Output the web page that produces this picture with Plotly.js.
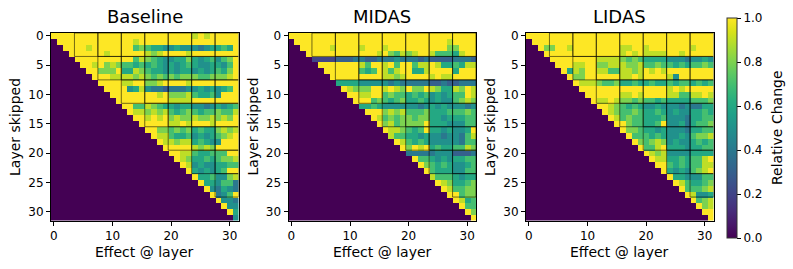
<!DOCTYPE html>
<html>
<head>
<meta charset="utf-8">
<script src="https://cdn.plot.ly/plotly-3.0.1.min.js"></script>
<style>html,body{margin:0;padding:0;background:#fff;}#chart{width:793px;height:269px;}</style>
</head>
<body>
<div id="chart"></div>
<script>
// Values per cell: digit d = d/10, X = 1.0 ; rows = "Layer skipped" 0..31, columns = "Effect @ layer" 0..31
const layerIndex = Array.from({length: 32}, (_, i) => i);
const xTickVals = [0, 10, 20, 30];
const yTickVals = [0, 5, 10, 15, 20, 25, 30];
const cbTickVals = [0, 0.2, 0.4, 0.6, 0.8, 1.0];
const cbTickText = ["0.0", "0.2", "0.4", "0.6", "0.8", "1.0"];
const panelTitles = ["Baseline", "MIDAS", "LIDAS"];

const baselineRows = [
"XXXX XXXX XXXX XXXX XXXX XXXX 9X9X XXXX",
"0XXX XXXX XXXX XX9X XXXX XXXX XXXX XXXX",
"00XX XX9X XXXX XX78 7665 5655 5456 676X",
"000X XXXX X9XX XXXX 989X XXX9 XXXX XXXX",
"0000 XXXX XXXX XX79 8765 5668 6567 578X",
"0000 0XX9 X898 7767 6765 6567 6556 657X",
"0000 00XX 888X 6698 7665 6566 5656 768X",
"0000 000X XX99 9989 8787 8788 8778 889X",
"0000 0000 XXXX 99XX 889X XXX9 XXXX XXXX",
"0000 0000 0XXX X569 5443 4445 5656 567X",
"0000 0000 00XX XXXX XX9X 8889 7667 5XXX",
"0000 0000 000X XXXX XXXX 9999 XXXX XXXX",
"0000 0000 0000 XX77 9876 6566 5545 6567",
"0000 0000 0000 0X99 8989 7678 7677 8779",
"0000 0000 0000 00XX 9X9X 8988 9889 898X",
"0000 0000 0000 000X XXXX 99X9 XXX9 XXXX",
"0000 0000 0000 0000 XX88 7878 6766 8989",
"0000 0000 0000 0000 0X99 7667 5656 789X",
"0000 0000 0000 0000 00X9 9899 6765 5XXX",
"0000 0000 0000 0000 000X XXXX 9898 XXXX",
"0000 0000 0000 0000 0000 XX99 7667 77XX",
"0000 0000 0000 0000 0000 0X98 6676 7889",
"0000 0000 0000 0000 0000 00X9 5655 6677",
"0000 0000 0000 0000 0000 000X 6565 67XX",
"0000 0000 0000 0000 0000 0000 X667 5589",
"0000 0000 0000 0000 0000 0000 0X66 5774",
"0000 0000 0000 0000 0000 0000 00X5 4654",
"0000 0000 0000 0000 0000 0000 000X 457X",
"0000 0000 0000 0000 0000 0000 0000 X554",
"0000 0000 0000 0000 0000 0000 0000 0X55",
"0000 0000 0000 0000 0000 0000 0000 00X6",
"0000 0000 0000 0000 0000 0000 0000 0005"
];

const midasRows = [
"XXXX XXXX XXXX XXXX XXXX XXXX XXXX XXXX",
"0XXX XXXX XXXX XXXX XXXX XXXX XXX9 XXXX",
"00XX XXX9 XXXX 9XXX 9XXX XXXX XXX8 8XXX",
"000X XXXX XXXX XXX9 X879 89XX 9777 69XX",
"0000 2222 3334 4334 4454 4434 3333 4443",
"0000 0XXX XXXX 97XX 9X7X X799 X966 7699",
"0000 00XX XXXX 767X 979X X669 XXXX 6XXX",
"0000 000X XXXX XXXX 9989 XXXX 9X99 XXXX",
"0000 0000 6666 5555 5454 4444 3343 3444",
"0000 0000 0X98 88XX 9X98 X88X 9866 98X9",
"0000 0000 00XX 99XX 7877 6767 5656 77X9",
"0000 0000 000X XX78 7678 6676 5655 7898",
"0000 0000 0000 6676 5555 5545 6565 5545",
"0000 0000 0000 0XXX 8989 7778 6667 7787",
"0000 0000 0000 00X9 7878 8788 6656 6677",
"0000 0000 0000 000X 8978 888X 6665 5577",
"0000 0000 0000 0000 X998 767X 6656 556X",
"0000 0000 0000 0000 0977 6656 5545 5479",
"0000 0000 0000 0000 00X9 7676 5555 5477",
"0000 0000 0000 0000 000X 8X9X 6766 7798",
"0000 0000 0000 0000 0000 4444 4555 3334",
"0000 0000 0000 0000 0000 0X77 6565 6677",
"0000 0000 0000 0000 0000 00X8 7676 5567",
"0000 0000 0000 0000 0000 000X 7666 5577",
"0000 0000 0000 0000 0000 0000 9777 6566",
"0000 0000 0000 0000 0000 0000 0X98 6678",
"0000 0000 0000 0000 0000 0000 00X9 7788",
"0000 0000 0000 0000 0000 0000 000X X788",
"0000 0000 0000 0000 0000 0000 0000 X967",
"0000 0000 0000 0000 0000 0000 0000 0X77",
"0000 0000 0000 0000 0000 0000 0000 00X8",
"0000 0000 0000 0000 0000 0000 0000 000X"
];

const lidasRows = [
"XXXX XXXX XXXX XXXX XXXX XXXX XXXX XXXX",
"0XXX XXXX XXXX XXXX XXXX XXXX XXXX XXXX",
"00X8 8XX9 XXXX XXXX 99XX 9XXX XXXX 9XXX",
"000X XXXX XXXX XXXX 9X9X 9999 XX9X XXXX",
"0000 XXXX XXXX 9999 8787 6666 5554 5565",
"0000 0XXX 99XX 8899 9889 7787 7676 7787",
"0000 00X6 98XX 9977 9989 X9X9 XXXX XXXX",
"0000 000X 88XX XXXX 99X9 XXXX 95XX XXXX",
"0000 0000 X999 8778 6676 6766 7677 6767",
"0000 0000 0XXX XXXX XXXX XXXX 9X9X XXXX",
"0000 0000 00XX XXXX 99X9 XXXX 9977 99X9",
"0000 0000 000X 99X9 8878 7767 6666 7778",
"0000 0000 0000 XX98 7676 5565 5545 4466",
"0000 0000 0000 0X98 7787 6676 5655 6676",
"0000 0000 0000 00X9 7877 6667 5554 6677",
"0000 0000 0000 000X X877 667X 5564 6778",
"0000 0000 0000 0000 X887 6656 5554 6677",
"0000 0000 0000 0000 0X77 7676 5565 7889",
"0000 0000 0000 0000 00X8 7898 5655 6767",
"0000 0000 0000 0000 000X 779X 6665 6677",
"0000 0000 0000 0000 0000 X989 5555 6666",
"0000 0000 0000 0000 0000 0X99 6676 779X",
"0000 0000 0000 0000 0000 00XX 7676 7799",
"0000 0000 0000 0000 0000 000X 6565 789X",
"0000 0000 0000 0000 0000 0000 X665 5577",
"0000 0000 0000 0000 0000 0000 0X97 6678",
"0000 0000 0000 0000 0000 0000 00X7 7789",
"0000 0000 0000 0000 0000 0000 000X 9556",
"0000 0000 0000 0000 0000 0000 0000 X789",
"0000 0000 0000 0000 0000 0000 0000 0X89",
"0000 0000 0000 0000 0000 0000 0000 00XX",
"0000 0000 0000 0000 0000 0000 0000 000X"
];

function decode(rows) {
  return rows.map(r => r.replace(/ /g, '').split('').map(c => c === 'X' ? 1.0 : Number(c) / 10));
}

const W = 793, H = 269;
const FONT = "DejaVu Sans";
const panelLeft = [51, 288.5, 526];
const panelW = 187.5;
const panelTop = 33, panelBot = 220.5;

const viridis = [
  [0.0, '#440154'], [0.0625, '#48186a'], [0.125, '#472d7b'], [0.1875, '#424086'],
  [0.25, '#3b528b'], [0.3125, '#33638d'], [0.375, '#2c728e'], [0.4375, '#26828e'],
  [0.5, '#21918c'], [0.5625, '#1fa088'], [0.625, '#28ae80'], [0.6875, '#3fbc73'],
  [0.75, '#5ec962'], [0.8125, '#84d44b'], [0.875, '#addc30'], [0.9375, '#d8e219'],
  [1.0, '#fde725']
];

const datasets = [decode(baselineRows), decode(midasRows), decode(lidasRows)];
const traces = [];
const layout = {
  width: W, height: H,
  margin: {l: 0, r: 0, t: 0, b: 0},
  paper_bgcolor: '#fff', plot_bgcolor: '#fff',
  showlegend: false,
  annotations: [], shapes: []
};

datasets.forEach((z, p) => {
  const sfx = p === 0 ? '' : String(p + 1);
  const tr = {
    type: 'heatmap', z: z, x: layerIndex, y: layerIndex,
    xaxis: 'x' + sfx, yaxis: 'y' + sfx,
    colorscale: viridis, zmin: 0, zmax: 1,
    showscale: p === 2, hoverinfo: 'skip'
  };
  if (p === 2) {
    tr.colorbar = {
      x: 727 / W, xanchor: 'left', xpad: 0, ypad: 0,
      y: 1 - 128 / H, yanchor: 'middle', len: 220 / H, lenmode: 'fraction',
      thickness: 10, thicknessmode: 'pixels',
      outlinewidth: 1, outlinecolor: '#333',
      ticks: 'outside', ticklen: 4, tickwidth: 1, tickcolor: '#000',
      tickvals: cbTickVals, ticktext: cbTickText,
      tickfont: {family: FONT, size: 12, color: '#000'}
    };
  }
  traces.push(tr);
  const x0 = panelLeft[p] / W, x1 = (panelLeft[p] + panelW) / W;
  const axCommon = {
    showgrid: false, zeroline: false, showline: true, mirror: true,
    linecolor: '#000', linewidth: 1, ticks: 'outside', ticklen: 4, tickwidth: 1,
    tickcolor: '#000', tickfont: {family: FONT, size: 12, color: '#000'}
  };
  layout['xaxis' + sfx] = Object.assign({}, axCommon, {
    domain: [x0, x1], range: [-0.5, 31.5], tickvals: xTickVals, anchor: 'y' + sfx
  });
  layout['yaxis' + sfx] = Object.assign({}, axCommon, {
    domain: [1 - panelBot / H, 1 - panelTop / H], range: [31.5, -0.5],
    tickvals: yTickVals, anchor: 'x' + sfx
  });
  const cx = (panelLeft[p] + panelW / 2) / W;
  layout.annotations.push({
    text: panelTitles[p], xref: 'paper', yref: 'paper', x: cx, y: 1 - 16.5 / H,
    xanchor: 'center', yanchor: 'middle', showarrow: false,
    font: {family: FONT, size: 18, color: '#000'}
  });
  layout.annotations.push({
    text: 'Effect @ layer', xref: 'paper', yref: 'paper', x: cx, y: 1 - 252 / H,
    xanchor: 'center', yanchor: 'middle', showarrow: false,
    font: {family: FONT, size: 14, color: '#000'}
  });
  layout.annotations.push({
    text: 'Layer skipped', xref: 'paper', yref: 'paper', x: (panelLeft[p] - 36) / W, y: 1 - 127 / H,
    xanchor: 'center', yanchor: 'middle', showarrow: false, textangle: -90,
    font: {family: FONT, size: 14, color: '#000'}
  });
  // 4x4 block outlines on the blocks above the diagonal
  for (let bi = 0; bi < 8; bi++) {
    for (let bj = bi + 1; bj < 8; bj++) {
      layout.shapes.push({
        type: 'rect', xref: 'x' + sfx, yref: 'y' + sfx,
        x0: bj * 4 - 0.5, x1: bj * 4 + 3.5, y0: bi * 4 - 0.5, y1: bi * 4 + 3.5,
        line: {color: 'rgba(0,0,0,0.55)', width: 1}, fillcolor: 'rgba(0,0,0,0)'
      });
    }
  }
});

layout.annotations.push({
  text: 'Relative Change', xref: 'paper', yref: 'paper', x: 777 / W, y: 1 - 128 / H,
  xanchor: 'center', yanchor: 'middle', showarrow: false, textangle: -90,
  font: {family: FONT, size: 14, color: '#000'}
});

Plotly.newPlot('chart', traces, layout, {staticPlot: true, displayModeBar: false});
</script>
</body>
</html>
